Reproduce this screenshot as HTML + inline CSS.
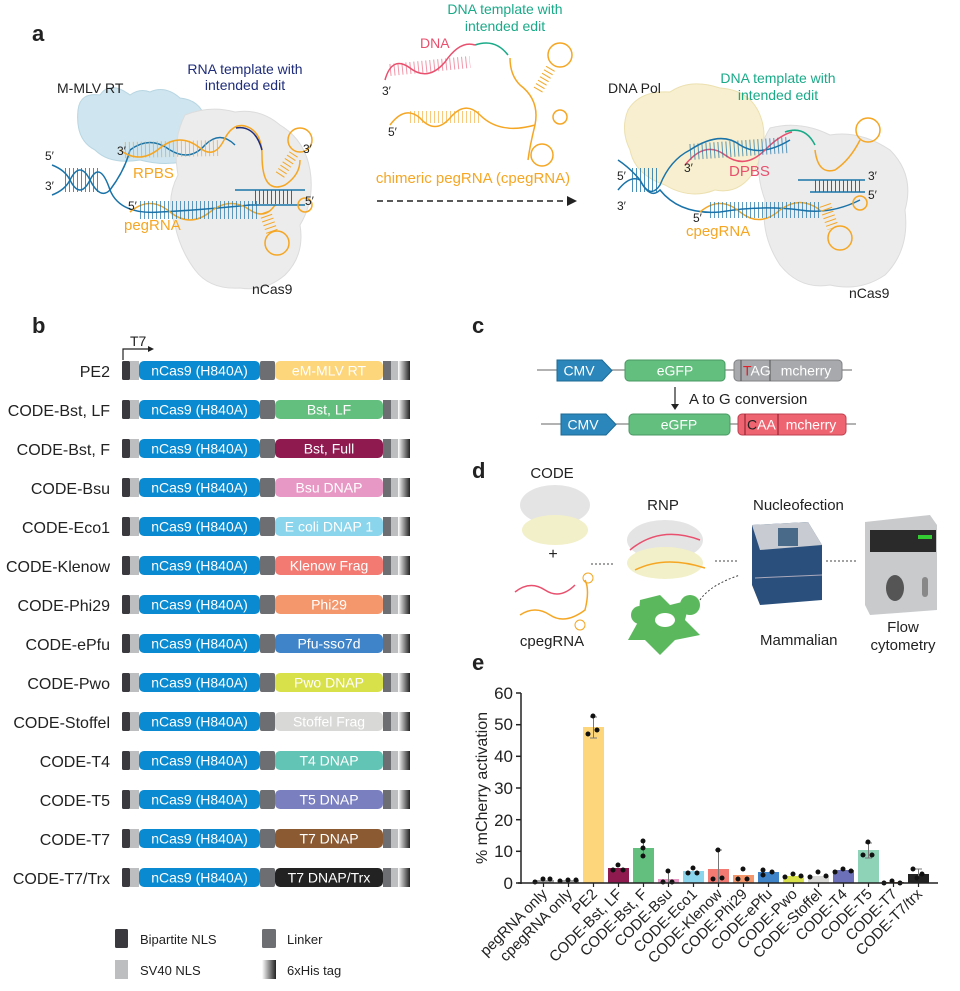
<!DOCTYPE html>
<html><head><meta charset="utf-8"><style>
body{margin:0;background:#fff;}
svg{display:block;font-family:"Liberation Sans",Arial,sans-serif;}
</style></head><body>
<svg width="960" height="991" viewBox="0 0 960 991" xmlns="http://www.w3.org/2000/svg">
<defs>
<linearGradient id="his" x1="0" x2="1" y1="0" y2="0"><stop offset="0" stop-color="#fff"/><stop offset="1" stop-color="#222"/></linearGradient>
<g id="r0">
<rect x="122" y="0" width="8" height="19" rx="1.5" fill="#3a3a3e"/>
<rect x="130" y="0" width="9" height="19" fill="#bcbec0"/>
<rect x="139" y="0" width="121" height="19" rx="5" fill="#0a8ad0"/>
<rect x="260" y="0" width="15" height="19" rx="2" fill="#6d6e71"/>
<rect x="383" y="0" width="8" height="19" fill="#6d6e71"/>
<rect x="391" y="0" width="7" height="19" fill="#bcbec0"/>
<rect x="398" y="0" width="12" height="19" fill="url(#his)"/>
<text x="199.5" y="14.5" font-size="14" fill="#fff" text-anchor="middle">nCas9 (H840A)</text>
</g>
</defs>
<!-- ===== Panel a ===== -->
<text x="32" y="41" font-size="22" font-weight="bold" fill="#222">a</text>
<path d="M78,110 Q80,92 100,95 Q110,80 130,95 Q140,88 150,92 Q165,85 180,98 Q200,100 205,118 Q210,140 195,158 Q170,168 140,160 Q110,165 95,150 Q75,140 78,110Z" fill="#cfe5ef" stroke="#b8d6e2"/>
<path d="M185,115 Q210,105 235,112 Q260,108 280,125 Q305,140 310,170 Q315,200 300,225 Q305,255 285,275 Q265,292 240,288 Q210,290 195,270 Q180,250 175,225 Q165,200 178,175 Q172,140 185,115Z" fill="#ececec" stroke="#dcdcdc"/>
<path d="M52,195 Q65,190 70,180 Q80,160 90,180 Q100,200 110,190 Q125,170 130,150" fill="none" stroke="#1a73a8" stroke-width="1.5"/>
<path d="M52,165 Q65,170 70,180 Q80,200 90,180 Q100,160 110,190 Q120,215 160,212 Q200,210 250,205" fill="none" stroke="#1a73a8" stroke-width="1.5"/>
<line x1="65" y1="180" x2="100" y2="180" stroke="#1a73a8" stroke-width="24" stroke-dasharray="1,3" opacity=".8"/>
<path d="M130,150 Q150,135 170,150 Q190,162 205,145 Q220,130 235,145" fill="none" stroke="#1a73a8" stroke-width="1.5"/>
<path d="M120,150 Q140,165 160,148 Q180,132 200,148 Q215,160 225,138 Q235,120 250,128 Q262,135 262,155" fill="none" stroke="#f5a623" stroke-width="1.5"/>
<line x1="125" y1="150" x2="220" y2="148" stroke="#f5a623" stroke-width="16" stroke-dasharray="1,3" opacity=".7"/>
<path d="M236,128 Q255,125 262,150" fill="none" stroke="#1f2d7a" stroke-width="1.5"/>
<path d="M262,155 Q262,195 285,185 Q300,175 300,160" fill="none" stroke="#f5a623" stroke-width="1.5"/>
<path d="M130,212 Q150,195 170,212 Q190,228 210,212 Q230,196 250,210 Q265,220 275,205" fill="none" stroke="#f5a623" stroke-width="1.5"/>
<line x1="140" y1="210" x2="260" y2="210" stroke="#1a73a8" stroke-width="18" stroke-dasharray="1,3" opacity=".7"/>
<path d="M235,190 L305,190 M248,205 L305,205" stroke="#1a73a8" stroke-width="1.5"/>
<line x1="255" y1="197" x2="295" y2="197" stroke="#1a73a8" stroke-width="14" stroke-dasharray="1,3"/>
<circle cx="300" cy="140" r="12" fill="none" stroke="#f5a623" stroke-width="1.5"/>
<line x1="280" y1="175" x2="295" y2="152" stroke="#f5a623" stroke-width="10" stroke-dasharray="1,3"/>
<circle cx="305" cy="205" r="7" fill="none" stroke="#f5a623" stroke-width="1.5"/>
<circle cx="277" cy="243" r="12" fill="none" stroke="#f5a623" stroke-width="1.5"/>
<line x1="265" y1="212" x2="272" y2="232" stroke="#f5a623" stroke-width="12" stroke-dasharray="1,3"/>
<g font-size="12" fill="#222">
<text x="57" y="93" font-size="14">M-MLV RT</text>
<text x="45" y="160">5′</text><text x="45" y="190">3′</text>
<text x="117" y="155">3′</text><text x="128" y="210">5′</text>
<text x="303" y="153">3′</text><text x="305" y="205">5′</text>
<text x="252" y="294" font-size="14">nCas9</text>
</g>
<text x="245" y="74" font-size="14" fill="#1f2d7a" text-anchor="middle">RNA template with</text>
<text x="245" y="90" font-size="14" fill="#1f2d7a" text-anchor="middle">intended edit</text>
<text x="133" y="178" font-size="15" fill="#f5a623">RPBS</text>
<text x="124" y="230" font-size="15" fill="#f5a623">pegRNA</text>
<!-- middle -->
<text x="505" y="14" font-size="14" fill="#1aaa88" text-anchor="middle">DNA template with</text>
<text x="505" y="31" font-size="14" fill="#1aaa88" text-anchor="middle">intended edit</text>
<text x="420" y="48" font-size="14" fill="#e8506e">DNA</text>
<path d="M385,80 Q392,55 410,68 Q428,82 445,62 Q460,40 475,45" fill="none" stroke="#e8506e" stroke-width="1.5"/>
<line x1="390" y1="70" x2="470" y2="62" stroke="#e8506e" stroke-width="12" stroke-dasharray="1,3" opacity=".6"/>
<path d="M475,45 Q495,38 508,55" fill="none" stroke="#1aaa88" stroke-width="1.5"/>
<path d="M510,58 Q510,75 520,85 Q540,100 535,125 Q530,145 528,160" fill="none" stroke="#f5a623" stroke-width="1.5"/>
<circle cx="560" cy="55" r="12" fill="none" stroke="#f5a623" stroke-width="1.5"/>
<line x1="538" y1="90" x2="552" y2="66" stroke="#f5a623" stroke-width="10" stroke-dasharray="1,3"/>
<circle cx="560" cy="117" r="7" fill="none" stroke="#f5a623" stroke-width="1.5"/>
<circle cx="542" cy="155" r="11" fill="none" stroke="#f5a623" stroke-width="1.5"/>
<path d="M390,125 Q405,105 420,118 Q435,135 450,118 Q465,100 480,115 Q500,135 535,125" fill="none" stroke="#f5a623" stroke-width="1.5"/>
<line x1="410" y1="117" x2="480" y2="117" stroke="#f5a623" stroke-width="12" stroke-dasharray="1,3" opacity=".6"/>
<text x="382" y="95" font-size="12" fill="#222">3′</text>
<text x="388" y="136" font-size="12" fill="#222">5′</text>
<text x="473" y="183" font-size="15" fill="#f5a623" text-anchor="middle">chimeric pegRNA (cpegRNA)</text>
<line x1="377" y1="201" x2="568" y2="201" stroke="#222" stroke-width="1.5" stroke-dasharray="6,4"/>
<path d="M567,196 L577,201 L567,206Z" fill="#222"/>
<path d="M628,110 Q640,90 670,92 Q690,78 720,88 Q750,90 760,115 Q770,140 755,170 Q740,195 715,190 Q690,200 665,185 Q635,175 630,150 Q620,130 628,110Z" fill="#f7efcf" stroke="#ece0b0"/>
<path d="M770,128 Q800,120 830,135 Q860,130 890,150 Q915,175 905,210 Q910,250 885,275 Q860,292 830,285 Q800,290 780,265 Q760,235 765,200 Q750,160 770,128Z" fill="#ececec" stroke="#dcdcdc"/>
<path d="M618,190 Q630,175 640,180 Q650,200 660,185 Q670,160 690,150 Q720,130 740,145 Q760,158 790,140" fill="none" stroke="#1a73a8" stroke-width="1.5"/>
<path d="M618,160 Q630,168 640,180 Q650,200 660,190 Q680,215 720,212 Q760,205 800,210 Q830,215 860,200" fill="none" stroke="#1a73a8" stroke-width="1.5"/>
<line x1="632" y1="180" x2="660" y2="180" stroke="#1a73a8" stroke-width="24" stroke-dasharray="1,3" opacity=".8"/>
<path d="M685,165 Q705,140 725,155 Q745,170 765,150 Q780,135 792,132" fill="none" stroke="#e8506e" stroke-width="1.5"/>
<line x1="690" y1="152" x2="788" y2="145" stroke="#1a73a8" stroke-width="16" stroke-dasharray="1,3" opacity=".7"/>
<path d="M785,132 Q805,125 815,145" fill="none" stroke="#1aaa88" stroke-width="1.5"/>
<path d="M815,150 Q818,175 835,170 Q850,160 860,140" fill="none" stroke="#f5a623" stroke-width="1.5"/>
<circle cx="868" cy="130" r="12" fill="none" stroke="#f5a623" stroke-width="1.5"/>
<path d="M700,212 Q720,195 740,212 Q760,228 780,210 Q800,195 820,210" fill="none" stroke="#f5a623" stroke-width="1.5"/>
<line x1="710" y1="210" x2="820" y2="210" stroke="#1a73a8" stroke-width="16" stroke-dasharray="1,3" opacity=".7"/>
<path d="M798,180 L865,180 M810,192 L865,192" stroke="#1a73a8" stroke-width="1.5"/>
<line x1="815" y1="186" x2="860" y2="186" stroke="#1a73a8" stroke-width="12" stroke-dasharray="1,3"/>
<circle cx="860" cy="203" r="7" fill="none" stroke="#f5a623" stroke-width="1.5"/>
<circle cx="840" cy="238" r="12" fill="none" stroke="#f5a623" stroke-width="1.5"/>
<line x1="825" y1="205" x2="833" y2="228" stroke="#f5a623" stroke-width="12" stroke-dasharray="1,3"/>
<g font-size="12" fill="#222">
<text x="608" y="93" font-size="14">DNA Pol</text>
<text x="617" y="180">5′</text><text x="617" y="210">3′</text>
<text x="684" y="172">3′</text><text x="693" y="222">5′</text>
<text x="868" y="180">3′</text><text x="868" y="199">5′</text>
<text x="849" y="298" font-size="14">nCas9</text>
</g>
<text x="778" y="83" font-size="14" fill="#1aaa88" text-anchor="middle">DNA template with</text>
<text x="778" y="100" font-size="14" fill="#1aaa88" text-anchor="middle">intended edit</text>
<text x="729" y="176" font-size="15" fill="#e8506e">DPBS</text>
<text x="686" y="236" font-size="15" fill="#f5a623">cpegRNA</text>

<!-- ===== Panel b ===== -->
<text x="32" y="333" font-size="22" font-weight="bold" fill="#222">b</text>
<text x="130" y="346" font-size="14" fill="#222">T7</text>
<path d="M123,360 L123,349 L150,349" fill="none" stroke="#222" stroke-width="1.2"/>
<path d="M148,346 L154,349 L148,352Z" fill="#222"/>
<g font-size="16" fill="#222" text-anchor="end">
<text x="110" y="377">PE2</text>
<text x="110" y="416">CODE-Bst, LF</text>
<text x="110" y="455">CODE-Bst, F</text>
<text x="110" y="494">CODE-Bsu</text>
<text x="110" y="533">CODE-Eco1</text>
<text x="110" y="572">CODE-Klenow</text>
<text x="110" y="611">CODE-Phi29</text>
<text x="110" y="650">CODE-ePfu</text>
<text x="110" y="689">CODE-Pwo</text>
<text x="110" y="728">CODE-Stoffel</text>
<text x="110" y="767">CODE-T4</text>
<text x="110" y="806">CODE-T5</text>
<text x="110" y="845">CODE-T7</text>
<text x="110" y="884">CODE-T7/Trx</text>
</g>
<g font-size="14" text-anchor="middle" fill="#fff">
<use href="#r0" y="361"/><rect x="275" y="361" width="108" height="19" rx="5" fill="#fdd57a"/><text x="329" y="375.5">eM-MLV RT</text>
<use href="#r0" y="400"/><rect x="275" y="400" width="108" height="19" rx="5" fill="#63bf7e"/><text x="329" y="414.5">Bst, LF</text>
<use href="#r0" y="439"/><rect x="275" y="439" width="108" height="19" rx="5" fill="#8e1a4f"/><text x="329" y="453.5">Bst, Full</text>
<use href="#r0" y="478"/><rect x="275" y="478" width="108" height="19" rx="5" fill="#e898c4"/><text x="329" y="492.5">Bsu DNAP</text>
<use href="#r0" y="517"/><rect x="275" y="517" width="108" height="19" rx="5" fill="#8ad4ec"/><text x="329" y="531.5">E coli DNAP 1</text>
<use href="#r0" y="556"/><rect x="275" y="556" width="108" height="19" rx="5" fill="#f27a72"/><text x="329" y="570.5">Klenow Frag</text>
<use href="#r0" y="595"/><rect x="275" y="595" width="108" height="19" rx="5" fill="#f5976c"/><text x="329" y="609.5">Phi29</text>
<use href="#r0" y="634"/><rect x="275" y="634" width="108" height="19" rx="5" fill="#3f84c8"/><text x="329" y="648.5">Pfu-sso7d</text>
<use href="#r0" y="673"/><rect x="275" y="673" width="108" height="19" rx="5" fill="#d8e04a"/><text x="329" y="687.5">Pwo DNAP</text>
<use href="#r0" y="712"/><rect x="275" y="712" width="108" height="19" rx="5" fill="#d8d8d6"/><text x="329" y="726.5">Stoffel Frag</text>
<use href="#r0" y="751"/><rect x="275" y="751" width="108" height="19" rx="5" fill="#62c4b4"/><text x="329" y="765.5">T4 DNAP</text>
<use href="#r0" y="790"/><rect x="275" y="790" width="108" height="19" rx="5" fill="#7a7fc0"/><text x="329" y="804.5">T5 DNAP</text>
<use href="#r0" y="829"/><rect x="275" y="829" width="108" height="19" rx="5" fill="#8b5a33"/><text x="329" y="843.5">T7 DNAP</text>
<use href="#r0" y="868"/><rect x="275" y="868" width="108" height="19" rx="5" fill="#222"/><text x="329" y="882.5">T7 DNAP/Trx</text>
</g>
<rect x="115" y="929" width="13" height="19" rx="1.5" fill="#3a3a3e"/>
<text x="140" y="944" font-size="13" fill="#222">Bipartite NLS</text>
<rect x="262" y="929" width="14" height="19" rx="1.5" fill="#6d6e71"/>
<text x="287" y="944" font-size="13" fill="#222">Linker</text>
<rect x="115" y="960" width="13" height="19" fill="#bcbec0"/>
<text x="140" y="975" font-size="13" fill="#222">SV40 NLS</text>
<rect x="262" y="960" width="14" height="19" fill="url(#his)"/>
<text x="287" y="975" font-size="13" fill="#222">6xHis tag</text>

<!-- ===== Panel c ===== -->
<text x="472" y="333" font-size="22" font-weight="bold" fill="#222">c</text>
<line x1="537" y1="370" x2="852" y2="370" stroke="#666"/>
<path d="M557,360 L602,360 L612,370.5 L602,381 L557,381Z" fill="#2a86bb" stroke="#1d6a96"/>
<text x="579" y="375.5" font-size="14" fill="#fff" text-anchor="middle">CMV</text>
<rect x="625" y="360" width="100" height="21" rx="4" fill="#63bf7e" stroke="#4a9a63"/>
<text x="675" y="375.5" font-size="14" fill="#fff" text-anchor="middle">eGFP</text>
<rect x="734" y="360" width="108" height="21" rx="4" fill="#a7a9ac" stroke="#808285"/>
<line x1="741" y1="360" x2="741" y2="381" stroke="#555"/><line x1="770" y1="360" x2="770" y2="381" stroke="#555"/>
<text x="743" y="375.5" font-size="14" fill="#fff"><tspan fill="#e0202a">T</tspan>AG</text>
<text x="806" y="375.5" font-size="14" fill="#fff" text-anchor="middle">mcherry</text>
<line x1="675" y1="387" x2="675" y2="405" stroke="#222" stroke-width="1.2"/>
<path d="M671,404 L675,410 L679,404Z" fill="#222"/>
<text x="689" y="404" font-size="15" fill="#222">A to G conversion</text>
<line x1="541" y1="424" x2="856" y2="424" stroke="#666"/>
<path d="M561,414 L606,414 L616,424.5 L606,435 L561,435Z" fill="#2a86bb" stroke="#1d6a96"/>
<text x="583" y="429.5" font-size="14" fill="#fff" text-anchor="middle">CMV</text>
<rect x="629" y="414" width="101" height="21" rx="4" fill="#63bf7e" stroke="#4a9a63"/>
<text x="679" y="429.5" font-size="14" fill="#fff" text-anchor="middle">eGFP</text>
<rect x="738" y="414" width="108" height="21" rx="4" fill="#ee6470" stroke="#c04050"/>
<line x1="745" y1="414" x2="745" y2="435" stroke="#8a1a2a"/><line x1="778" y1="414" x2="778" y2="435" stroke="#8a1a2a"/>
<text x="747" y="429.5" font-size="14" fill="#fff"><tspan fill="#222">C</tspan>AA</text>
<text x="811" y="429.5" font-size="14" fill="#fff" text-anchor="middle">mcherry</text>

<!-- ===== Panel d ===== -->
<text x="472" y="478" font-size="22" font-weight="bold" fill="#222">d</text>
<text x="552" y="478" font-size="15" fill="#222" text-anchor="middle">CODE</text>
<ellipse cx="555" cy="505" rx="35" ry="20" fill="#e4e4e4"/>
<ellipse cx="555" cy="530" rx="33" ry="15" fill="#f2f0c8"/>
<text x="553" y="559" font-size="16" fill="#222" text-anchor="middle">+</text>
<path d="M515,592 Q530,580 545,590 Q560,600 575,585" fill="none" stroke="#e8506e" stroke-width="1.5"/>
<path d="M520,615 Q535,605 550,615 Q565,625 585,610 Q590,590 585,580" fill="none" stroke="#f5a623" stroke-width="1.5"/>
<circle cx="588" cy="578" r="5" fill="none" stroke="#f5a623"/><circle cx="580" cy="625" r="5" fill="none" stroke="#f5a623"/>
<text x="552" y="646" font-size="15" fill="#222" text-anchor="middle">cpegRNA</text>
<line x1="591" y1="564" x2="615" y2="564" stroke="#444" stroke-dasharray="2,2"/>
<text x="663" y="510" font-size="15" fill="#222" text-anchor="middle">RNP</text>
<ellipse cx="665" cy="540" rx="38" ry="20" fill="#e4e4e4"/>
<ellipse cx="665" cy="563" rx="38" ry="16" fill="#f2f0c8"/>
<path d="M630,550 Q660,525 700,540" fill="none" stroke="#e8506e" stroke-width="1.5"/>
<path d="M635,570 Q665,555 705,568" fill="none" stroke="#f5a623" stroke-width="1.5"/>
<line x1="715" y1="561" x2="738" y2="561" stroke="#444" stroke-dasharray="2,2"/>
<path d="M700,600 Q710,585 740,575" fill="none" stroke="#444" stroke-dasharray="2,2"/>
<g fill="#5cb85c">
<path d="M640,600 L660,595 L670,605 L690,600 L685,620 L700,635 L675,640 L660,655 L645,640 L628,640 L638,622Z"/>
<circle cx="690" cy="605" r="10"/><circle cx="640" cy="615" r="9"/>
</g>
<ellipse cx="665" cy="620" rx="10" ry="7" fill="#fff"/>
<text x="760" y="645" font-size="15" fill="#222">Mammalian</text>
<text x="753" y="510" font-size="15" fill="#222">Nucleofection</text>
<path d="M752,525 L808,522 L822,545 L822,600 L760,605 L752,585Z" fill="#2a4f7c"/>
<path d="M752,525 L808,522 L822,545 L760,550Z" fill="#c8ccd2"/>
<rect x="778" y="528" width="20" height="18" fill="#4a6a8a"/>
<line x1="755" y1="578" x2="822" y2="575" stroke="#aab" stroke-width="1"/>
<line x1="826" y1="561" x2="858" y2="561" stroke="#444" stroke-dasharray="2,2"/>
<path d="M865,522 L930,515 L937,525 L937,610 L870,615 L865,605Z" fill="#c8cacc"/>
<rect x="870" y="530" width="66" height="22" fill="#2a2a2a"/>
<rect x="918" y="535" width="14" height="4" fill="#3c3"/>
<ellipse cx="895" cy="588" rx="9" ry="13" fill="#555"/>
<rect x="922" y="577" width="6" height="20" rx="3" fill="#888"/>
<text x="903" y="632" font-size="15" fill="#222" text-anchor="middle">Flow</text>
<text x="903" y="650" font-size="15" fill="#222" text-anchor="middle">cytometry</text>

<!-- ===== Panel e ===== -->
<text x="472" y="670" font-size="22" font-weight="bold" fill="#222">e</text>
<text x="0" y="0" font-size="16" fill="#222" text-anchor="middle" transform="translate(487,788) rotate(-90)">% mCherry activation</text>
<g font-size="17" fill="#222" text-anchor="end">
<text x="513" y="889">0</text><text x="513" y="857">10</text><text x="513" y="826">20</text>
<text x="513" y="794">30</text><text x="513" y="762">40</text><text x="513" y="730">50</text><text x="513" y="699">60</text>
</g>
<g stroke="#222" stroke-width="1.5">
<line x1="521" y1="693" x2="521" y2="884"/>
<line x1="516" y1="883" x2="521" y2="883"/><line x1="516" y1="851.3" x2="521" y2="851.3"/><line x1="516" y1="819.7" x2="521" y2="819.7"/>
<line x1="516" y1="788" x2="521" y2="788"/><line x1="516" y1="756.3" x2="521" y2="756.3"/><line x1="516" y1="724.7" x2="521" y2="724.7"/><line x1="516" y1="693" x2="521" y2="693"/>
</g>
<g>
<rect x="533" y="880" width="21" height="3" fill="#a0a0a0"/>
<rect x="558" y="880" width="21" height="3" fill="#a0a0a0"/>
<rect x="583" y="727" width="21" height="156" fill="#fdd57a"/>
<rect x="608" y="868" width="21" height="15" fill="#8e1a4f"/>
<rect x="633" y="848" width="21" height="35" fill="#63bf7e"/>
<rect x="658" y="879" width="21" height="4" fill="#e898c4"/>
<rect x="683" y="871" width="21" height="12" fill="#8ad4ec"/>
<rect x="708" y="869" width="21" height="14" fill="#f27a72"/>
<rect x="733" y="875" width="21" height="8" fill="#f5976c"/>
<rect x="758" y="872" width="21" height="11" fill="#3f84c8"/>
<rect x="783" y="876" width="21" height="7" fill="#d8e04a"/>
<rect x="808" y="876" width="21" height="7" fill="#d8d8d6"/>
<rect x="833" y="870" width="21" height="13" fill="#6c70b8"/>
<rect x="858" y="850" width="21" height="33" fill="#8ed2b8"/>
<rect x="883" y="882" width="21" height="1" fill="#8b5a33"/>
<rect x="908" y="874" width="21" height="9" fill="#222"/>
</g>
<g stroke="#777" stroke-width="1">
<path d="M593.5,717 V738 M590,717 H597 M590,738 H597"/>
<path d="M643.5,843 V854"/>
<path d="M668.5,872 V887"/>
<path d="M718.5,850 V883 M715,850 H722"/>
<path d="M868.5,843 V858 M865,843 H872 M865,858 H872"/>
<path d="M918.5,869 V880 M915,869 H922"/>
</g>
<g fill="#111">
<circle cx="535" cy="882" r="2.5"/><circle cx="543" cy="879" r="2.5"/><circle cx="550" cy="879" r="2.5"/>
<circle cx="560" cy="881" r="2.5"/><circle cx="568" cy="880" r="2.5"/><circle cx="576" cy="880" r="2.5"/>
<circle cx="593" cy="716" r="2.5"/><circle cx="588" cy="734" r="2.5"/><circle cx="597" cy="730" r="2.5"/>
<circle cx="618" cy="865" r="2.5"/><circle cx="613" cy="870" r="2.5"/><circle cx="623" cy="870" r="2.5"/>
<circle cx="643" cy="841" r="2.5"/><circle cx="643" cy="848" r="2.5"/><circle cx="643" cy="856" r="2.5"/>
<circle cx="668" cy="871" r="2.5"/><circle cx="663" cy="882" r="2.5"/><circle cx="672" cy="882" r="2.5"/>
<circle cx="693" cy="868" r="2.5"/><circle cx="688" cy="873" r="2.5"/><circle cx="697" cy="873" r="2.5"/>
<circle cx="718" cy="850" r="2.5"/><circle cx="713" cy="879" r="2.5"/><circle cx="722" cy="878" r="2.5"/>
<circle cx="743" cy="869" r="2.5"/><circle cx="738" cy="879" r="2.5"/><circle cx="747" cy="879" r="2.5"/>
<circle cx="763" cy="870" r="2.5"/><circle cx="763" cy="875" r="2.5"/><circle cx="772" cy="872" r="2.5"/>
<circle cx="785" cy="877" r="2.5"/><circle cx="793" cy="874" r="2.5"/><circle cx="801" cy="876" r="2.5"/>
<circle cx="810" cy="877" r="2.5"/><circle cx="818" cy="872" r="2.5"/><circle cx="826" cy="876" r="2.5"/>
<circle cx="835" cy="872" r="2.5"/><circle cx="843" cy="869" r="2.5"/><circle cx="851" cy="871" r="2.5"/>
<circle cx="868" cy="842" r="2.5"/><circle cx="863" cy="855" r="2.5"/><circle cx="872" cy="855" r="2.5"/>
<circle cx="884" cy="883" r="2.5"/><circle cx="892" cy="881" r="2.5"/><circle cx="900" cy="883" r="2.5"/>
<circle cx="913" cy="869" r="2.5"/><circle cx="917" cy="878" r="2.5"/><circle cx="922" cy="874" r="2.5"/>
</g>
<line x1="518" y1="883" x2="938" y2="883" stroke="#222" stroke-width="1.5"/>
<g stroke="#222" stroke-width="1.2">
<path d="M543.5,883v4M568.5,883v4M593.5,883v4M618.5,883v4M643.5,883v4M668.5,883v4M693.5,883v4M718.5,883v4M743.5,883v4M768.5,883v4M793.5,883v4M818.5,883v4M843.5,883v4M868.5,883v4M893.5,883v4M918.5,883v4"/>
</g>
<g font-size="15" fill="#222" text-anchor="end">
<text transform="translate(548,895) rotate(-45)">pegRNA only</text>
<text transform="translate(573,895) rotate(-45)">cpegRNA only</text>
<text transform="translate(598,895) rotate(-45)">PE2</text>
<text transform="translate(623,895) rotate(-45)">CODE-Bst, LF</text>
<text transform="translate(648,895) rotate(-45)">CODE-Bst, F</text>
<text transform="translate(673,895) rotate(-45)">CODE-Bsu</text>
<text transform="translate(698,895) rotate(-45)">CODE-Eco1</text>
<text transform="translate(723,895) rotate(-45)">CODE-Klenow</text>
<text transform="translate(748,895) rotate(-45)">CODE-Phi29</text>
<text transform="translate(773,895) rotate(-45)">CODE-ePfu</text>
<text transform="translate(798,895) rotate(-45)">CODE-Pwo</text>
<text transform="translate(823,895) rotate(-45)">CODE-Stoffel</text>
<text transform="translate(848,895) rotate(-45)">CODE-T4</text>
<text transform="translate(873,895) rotate(-45)">CODE-T5</text>
<text transform="translate(898,895) rotate(-45)">CODE-T7</text>
<text transform="translate(923,895) rotate(-45)">CODE-T7/trx</text>
</g>
</svg>
</body></html>
